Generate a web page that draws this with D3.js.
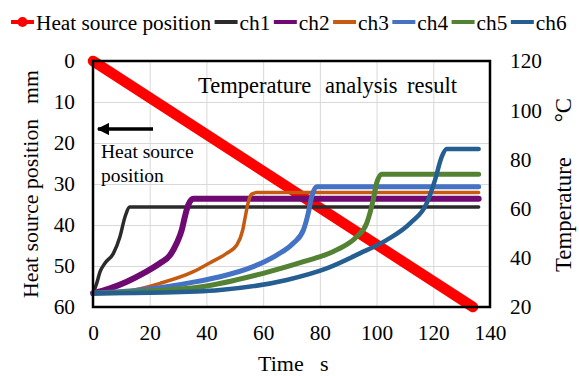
<!DOCTYPE html>
<html>
<head>
<meta charset="utf-8">
<script src="https://cdn.jsdelivr.net/npm/d3@7"></script>
<style>
  body { margin: 0; background: #fff; }
</style>
</head>
<body>
<div class="wrapper"></div>
<script>
// values

var xTicks = [0, 20, 40, 60, 80, 100, 120, 140];
var posTicks = [0, 10, 20, 30, 40, 50, 60];
var tempTicks = [20, 40, 60, 80, 100, 120];

// heat source position (mm) against time (s)
var heatTime = [0, 134];
var heatPos = [0, 60];

// temperatures [time, degC]
var ch1 = [[0,25.6],[1.3,29.6],[2.5,34.4],[4.2,37.8],[7.2,41.8],[9.5,48.6],[11.3,56.7],[13,60.7],[136,60.7]];
var ch2 = [[0,25.6],[6,27.6],[11.9,30.3],[17.7,33.7],[23.6,37.8],[27.2,41.1],[29.5,45.9],[31.3,51.3],[32.4,56.7],[33.6,61.5],[35.4,64],[136,64]];
var ch3 = [[0,25.6],[11.9,26.4],[23.6,29.6],[35.4,34.35],[41.3,38],[47.1,41.8],[50.7,45.2],[52.8,51.3],[53.7,56.7],[54.8,62.8],[56,65.9],[57.7,66.5],[136,66.5]];
var ch4 = [[0,25.6],[20,27.3],[35,30],[44.8,32.3],[56.5,36.4],[64.8,41.1],[70.6,45.9],[74.2,51.3],[75.9,58.1],[77.1,64.8],[78.9,68.9],[136,68.9]];
var ch5 = [[0,25.6],[20,26.5],[37.7,28.1],[60,33.7],[74.2,38.4],[85.9,43.2],[93,48.6],[96.5,54],[98.8,63.5],[100,70.3],[101.8,74],[136,74]];
var ch6 = [[0,25.6],[25,25.9],[44.8,26.9],[68.3,31],[82.4,35.7],[94.1,41.8],[103.5,47.2],[111.8,54],[117.7,62.2],[120.6,71.6],[123,81.1],[124.7,84.2],[136,84.2]];

var channels = [
    {name: "ch1", data: ch1, color: "#2b2b2b", width: 3.5},
    {name: "ch2", data: ch2, color: "#6e0a72", width: 6},
    {name: "ch3", data: ch3, color: "#c55a11", width: 3.5},
    {name: "ch4", data: ch4, color: "#4472c4", width: 5},
    {name: "ch5", data: ch5, color: "#548235", width: 5},
    {name: "ch6", data: ch6, color: "#255e91", width: 4.5}
];

var svgWidth = 579;
var svgHeight = 376;
var tickSize = 21.3;
var serif = "'Liberation Serif', 'Times New Roman', 'DejaVu Serif', serif";

var svg = d3.select("body").append("svg")
    .attr("width", svgWidth)
    .attr("height", svgHeight)
    .style("font-family", serif);

var x = d3.scaleLinear().domain([0, 140]).range([93, 490]);
var yPos = d3.scaleLinear().domain([0, 60]).range([61, 307]);
var yTemp = d3.scaleLinear().domain([20, 120]).range([307, 61]);

// gridlines
svg.append("g")
    .attr("transform", "translate(0,307)")
    .call(d3.axisBottom(x).tickValues(xTicks).tickSize(-246).tickFormat(""))
    .call(function(g) { g.select(".domain").remove(); })
    .selectAll("line").attr("stroke", "#d9d9d9").attr("stroke-width", 1);

svg.append("g")
    .attr("transform", "translate(93,0)")
    .call(d3.axisLeft(yPos).tickValues(posTicks).tickSize(-397).tickFormat(""))
    .call(function(g) { g.select(".domain").remove(); })
    .selectAll("line").attr("stroke", "#d9d9d9").attr("stroke-width", 1);

// heat source position line
var heatData = heatTime.map(function(t, i) { return [t, heatPos[i]]; });
svg.append("path")
    .datum(heatData)
    .attr("fill", "none")
    .attr("stroke", "#ff0000")
    .attr("stroke-width", 10.5)
    .attr("stroke-linecap", "round")
    .attr("d", d3.line()
        .x(function(d) { return x(d[0]); })
        .y(function(d) { return yPos(d[1]); }));

// temperature channels
var tempLine = d3.line()
    .curve(d3.curveMonotoneX)
    .x(function(d) { return x(d[0]); })
    .y(function(d) { return yTemp(d[1]); });

svg.selectAll(".ch")
    .data(channels)
    .enter()
    .append("path")
    .attr("class", "ch")
    .attr("fill", "none")
    .attr("stroke", function(d) { return d.color; })
    .attr("stroke-width", function(d) { return d.width; })
    .attr("stroke-linecap", "round")
    .attr("d", function(d) { return tempLine(d.data); });

// plot frame
svg.append("rect")
    .attr("x", 93).attr("y", 61)
    .attr("width", 397).attr("height", 246)
    .attr("fill", "none")
    .attr("stroke", "#000")
    .attr("stroke-width", 2.5);

// axes labels
function styleAxis(g) {
    g.select(".domain").remove();
    g.attr("font-family", null).attr("font-size", null);
    g.selectAll("text")
        .style("font-family", serif)
        .style("font-size", tickSize + "px")
        .attr("fill", "#000");
}

svg.append("g")
    .attr("transform", "translate(0,307)")
    .call(d3.axisBottom(x).tickValues(xTicks).tickSize(0).tickPadding(18))
    .call(styleAxis);

svg.append("g")
    .attr("transform", "translate(93,0)")
    .call(d3.axisLeft(yPos).tickValues(posTicks).tickSize(0).tickPadding(18))
    .call(styleAxis);

svg.append("g")
    .attr("transform", "translate(490,0)")
    .call(d3.axisRight(yTemp).tickValues(tempTicks).tickSize(0).tickPadding(20))
    .call(styleAxis);

function addText(sel, size) {
    return sel.append("text")
        .style("font-family", serif)
        .style("font-size", size + "px")
        .attr("fill", "#000");
}

// axis titles (rotated, reading bottom to top)
addText(svg, 21.8)
    .attr("transform", "translate(38,298) rotate(-90)")
    .text("Heat source position");
addText(svg, 21.8)
    .attr("transform", "translate(38,70) rotate(-90)")
    .attr("text-anchor", "end")
    .text("mm");

addText(svg, 22.8)
    .attr("transform", "translate(571,272) rotate(-90)")
    .text("Temperature");
addText(svg, 22.8)
    .attr("transform", "translate(571,98) rotate(-90)")
    .attr("text-anchor", "end")
    .text("\u00b0C");

addText(svg, 22).attr("x", 258).attr("y", 371).text("Time");
addText(svg, 22).attr("x", 320).attr("y", 371).text("s");

// chart title inside the plot
addText(svg, 22.5).attr("x", 198).attr("y", 93).text("Temperature");
addText(svg, 22.5).attr("x", 325).attr("y", 93).text("analysis");
addText(svg, 22.5).attr("x", 407).attr("y", 93).text("result");

// arrow annotation
svg.append("defs").append("marker")
    .attr("id", "arrowHead")
    .attr("viewBox", "0 0 10 10")
    .attr("refX", 9).attr("refY", 5)
    .attr("markerWidth", 3.6).attr("markerHeight", 3.4)
    .attr("markerUnits", "strokeWidth")
    .attr("orient", "auto")
    .append("path")
    .attr("d", "M0,0L10,5L0,10Z")
    .attr("fill", "#000");

svg.append("line")
    .attr("x1", 153).attr("y1", 129)
    .attr("x2", 98).attr("y2", 129)
    .attr("stroke", "#000")
    .attr("stroke-width", 3.6)
    .attr("marker-end", "url(#arrowHead)");

addText(svg, 19.5).attr("x", 101).attr("y", 158).text("Heat source");
addText(svg, 19.5).attr("x", 101).attr("y", 182).text("position");

// legend
var legendItems = [{name: "Heat source position", color: "#ff0000", dot: true}].concat(
    channels.map(function(c) { return {name: c.name, color: c.color, dot: false}; }));

var legend = svg.append("g").attr("class", "legend");
var lx = 11;
var ly = 22;
legendItems.forEach(function(item) {
    var g = legend.append("g");
    g.append("line")
        .attr("x1", lx).attr("x2", lx + 23)
        .attr("y1", ly).attr("y2", ly)
        .attr("stroke", item.color)
        .attr("stroke-width", 4);
    if (item.dot) {
        g.append("circle")
            .attr("cx", lx + 11.5).attr("cy", ly)
            .attr("r", 5)
            .attr("fill", item.color);
    }
    var t = addText(g, 21.3)
        .attr("x", lx + 25).attr("y", ly + 8)
        .text(item.name);
    lx = lx + 25 + t.node().getComputedTextLength() + 3.5;
});
</script>
</body>
</html>
